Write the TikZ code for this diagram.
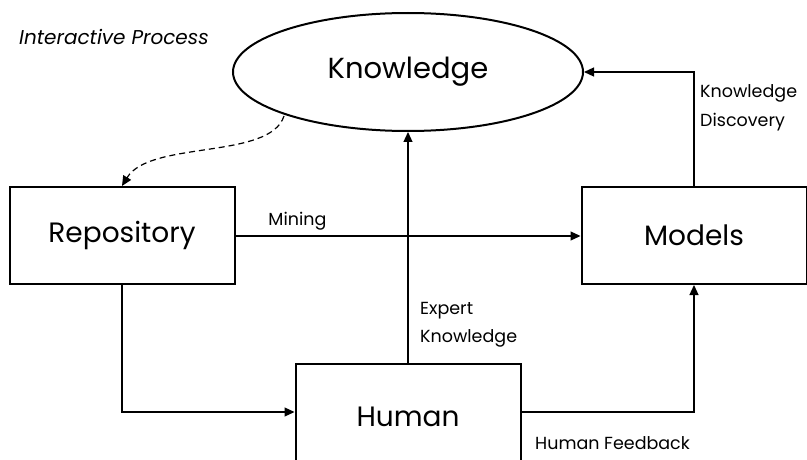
\documentclass[tikz,border=0pt]{standalone}
\usepackage{fontspec}
\setmainfont{Poppins}
\usetikzlibrary{arrows.meta,shapes.geometric}
\begin{document}
\begin{tikzpicture}[x=1pt,y=-1pt,
  box/.style={draw,line width=2pt,minimum width=225pt,minimum height=97pt,inner sep=0pt,font=\fontsize{28}{32}\selectfont},
  conn/.style={line width=1.2pt,-{Triangle[length=10pt,width=9pt]}},
  lbl/.style={font=\fontsize{17.5}{28.5}\selectfont,inner sep=0pt},
]
\clip (0,0) rectangle (807,460);
\fill[white] (0,0) rectangle (807,460);
\node[lbl,font=\fontsize{20}{24}\selectfont\itshape,anchor=west] (title) at (19,37) {Interactive Process};
\node[draw,ellipse,line width=2pt,minimum width=350pt,minimum height=118pt,inner sep=0pt,font=\fontsize{29}{32}\selectfont] (know) at (408,72) {Knowledge};
\node[box] (repo) at (122,235.5) {Repository};
\node[box] (models) at (694,235.5) {Models};
\node[box,minimum height=106pt] (human) at (408,417) {Human};
\draw[conn] (repo.east |- 0,236) -- node[lbl,above,pos=0.165,xshift=5pt,yshift=5pt] (mining) {Mining} (models.west |- 0,236);
\draw[conn] (repo.south) |- (human.west |- 0,412);
\draw[conn] (human.north) -- (know.south);
\node[lbl,align=left,anchor=west] (expert) at (420,325) {Expert\\Knowledge};
\draw[conn] (human.east |- 0,412) -| (models.south);
\node[lbl,anchor=west] (feedback) at (535,443) {Human Feedback};
\draw[conn] (models.north) |- (know.east);
\node[lbl,align=left,anchor=west] (disc) at (700,108) {Knowledge\\Discovery};
\coordinate (ds) at (284,116);
\draw[line width=1.2pt,dash pattern=on 6pt off 4pt,-{Triangle[length=10pt,width=9pt]}]
  (ds) .. controls (270,160) and (150,140) .. (repo.north);
\end{tikzpicture}
\end{document}
